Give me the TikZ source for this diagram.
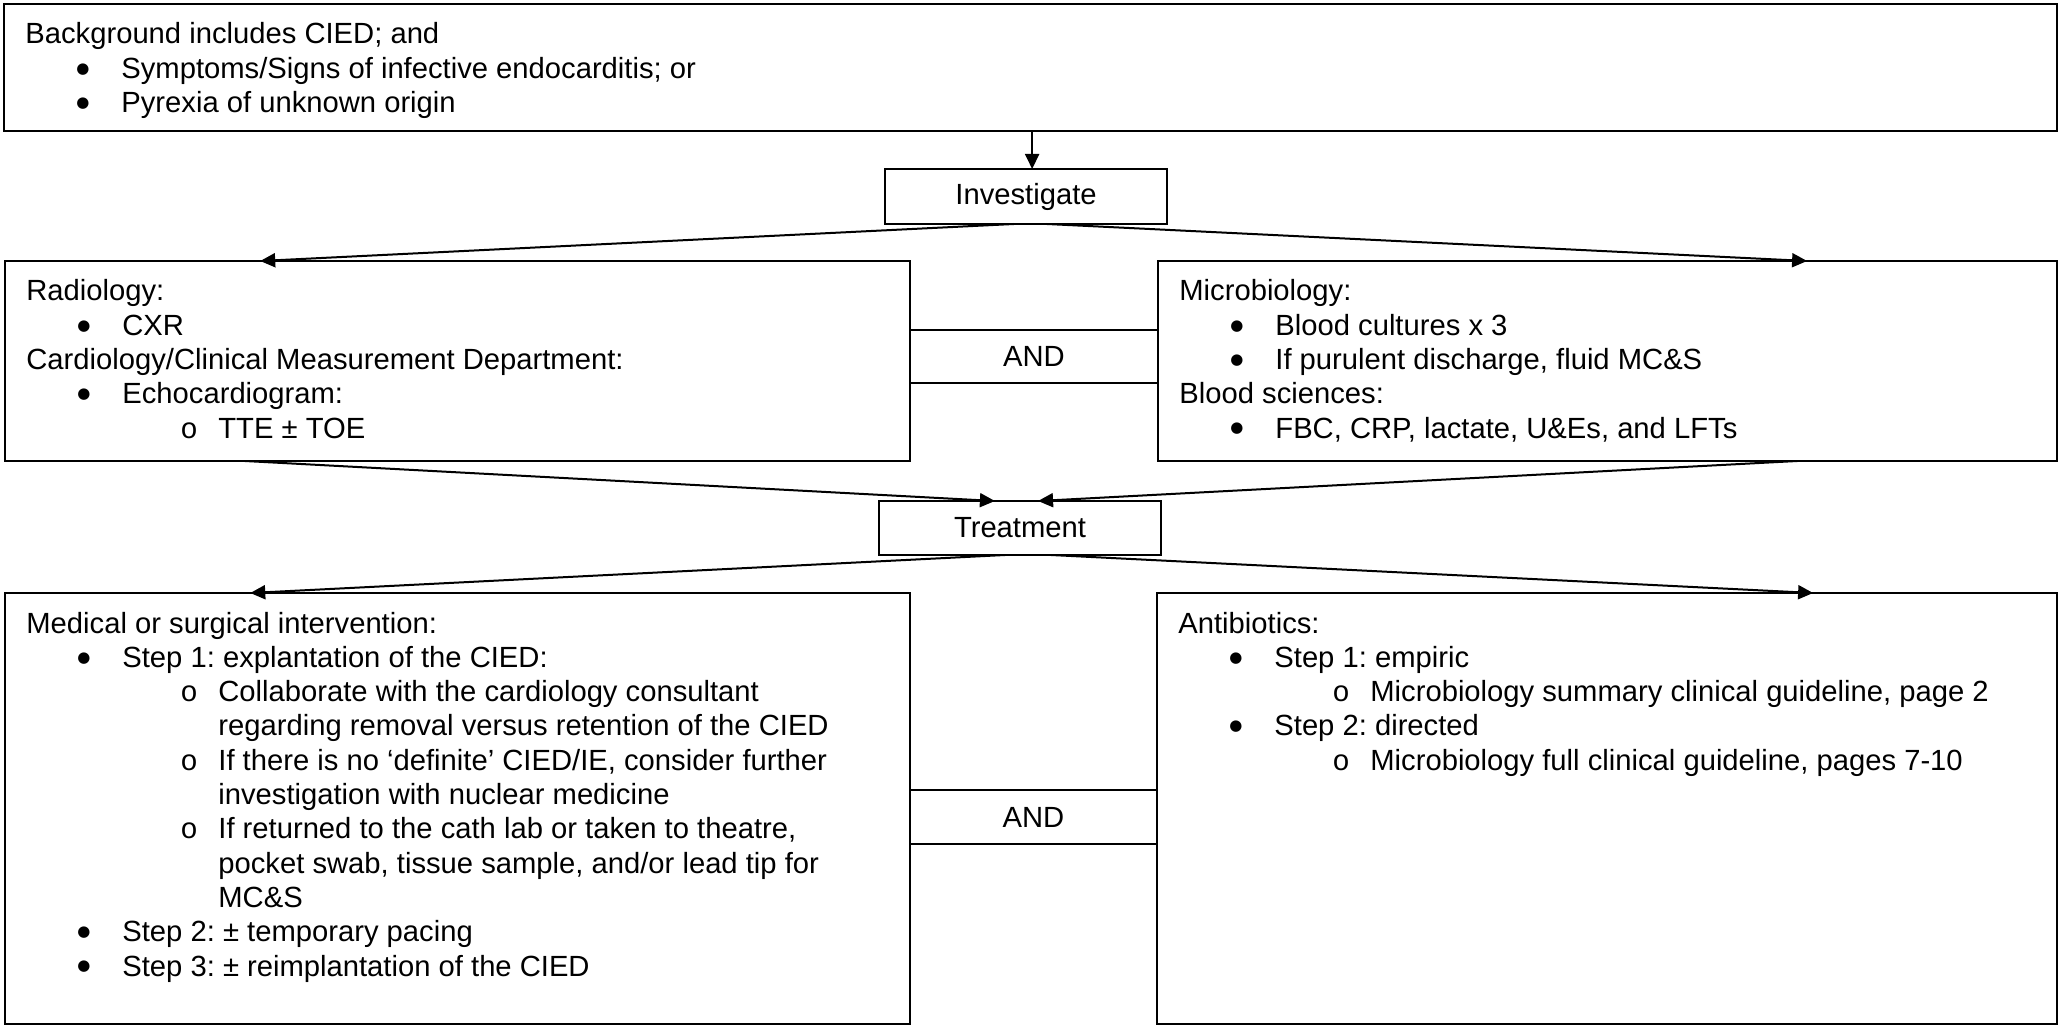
\documentclass[tikz,border=0pt]{standalone}
\usepackage{fontspec}
\setmainfont{Liberation Sans}
\newfontfamily\subbul{Liberation Mono}
\newfontfamily\bulfont{DejaVu Sans}
\usetikzlibrary{arrows.meta,calc}
\frenchspacing
\newcommand\bulletmark{\raisebox{2.6pt}{\bulfont\fontsize{7.5pt}{8pt}\selectfont ●}}
\newcommand\lvA[1]{\hspace*{25.5pt}\makebox[22.5pt][l]{\bulletmark}#1}
\newcommand\lvB[1]{\hspace*{77pt}\makebox[19pt][l]{\subbul o}#1}
\newcommand\lvC[1]{\hspace*{96pt}#1}
\begin{document}
\begin{tikzpicture}[x=0.5pt,y=-0.5pt,
  box/.style={draw, line width=1pt, anchor=north west, inner sep=0pt, outer sep=0pt},
  label/.style={font=\fontsize{14.6pt}{17.15pt}\selectfont, inner sep=0pt},
  txt/.style={anchor=base west, inner sep=0pt, font=\fontsize{14.6pt}{17.15pt}\selectfont\frenchspacing},
  arr/.style={line width=1pt, -{Triangle[length=7.5pt,width=7pt]}}]
\useasboundingbox (0,0) rectangle (2060,1026);
% boxes
\node[box, minimum width=1026.5pt, minimum height=63.5pt] (top) at (4,4) {};
\node[box, minimum width=141pt, minimum height=27.5pt] (inv) at (885,169) {};
\node[box, minimum width=452.5pt, minimum height=100pt] (rad) at (5,261) {};
\node[box, minimum width=449.5pt, minimum height=100pt] (mic) at (1158,261) {};
\node[box, minimum width=124pt, minimum height=26.5pt] (and1) at (910,330) {};
\node[box, minimum width=141pt, minimum height=27pt] (trt) at (879,501) {};
\node[box, minimum width=452.5pt, minimum height=215.5pt] (med) at (5,593) {};
\node[box, minimum width=450pt, minimum height=215.5pt] (ant) at (1157,593) {};
\node[box, minimum width=123.5pt, minimum height=27pt] (and2) at (910,790) {};
% small labels
\node[label] (invt) at (inv.center) {Investigate};
\node[label] (and1t) at (and1.center) {AND};
\node[label] (trtt) at (trt.center) {Treatment};
\node[label] (and2t) at (and2.center) {AND};
% texts
\node[txt] (topt) at ([xshift=10.5pt,yshift=-20pt]top.north west) {\begin{minipage}[t]{900pt}
Background includes CIED; and\\
\lvA{Symptoms/Signs of infective endocarditis; or}\\
\lvA{Pyrexia of unknown origin}
\end{minipage}};
\node[txt] (radt) at ([xshift=10.5pt,yshift=-20pt]rad.north west) {\begin{minipage}[t]{430pt}
Radiology:\\
\lvA{CXR}\\
Cardiology/Clinical Measurement Department:\\
\lvA{Echocardiogram:}\\
\lvB{TTE ± TOE}
\end{minipage}};
\node[txt] (mict) at ([xshift=10.5pt,yshift=-20pt]mic.north west) {\begin{minipage}[t]{430pt}
Microbiology:\\
\lvA{Blood cultures x 3}\\
\lvA{If purulent discharge, fluid MC\&S}\\
Blood sciences:\\
\lvA{FBC, CRP, lactate, U\&Es, and LFTs}
\end{minipage}};
\node[txt] (medt) at ([xshift=10.5pt,yshift=-20pt]med.north west) {\begin{minipage}[t]{430pt}
Medical or surgical intervention:\\
\lvA{Step 1: explantation of the CIED:}\\
\lvB{Collaborate with the cardiology consultant}\\
\lvC{regarding removal versus retention of the CIED}\\
\lvB{If there is no ‘definite’ CIED/IE, consider further}\\
\lvC{investigation with nuclear medicine}\\
\lvB{If returned to the cath lab or taken to theatre,}\\
\lvC{pocket swab, tissue sample, and/or lead tip for}\\
\lvC{MC\&S}\\
\lvA{Step 2: ± temporary pacing}\\
\lvA{Step 3: ± reimplantation of the CIED}
\end{minipage}};
\node[txt] (antt) at ([xshift=10.5pt,yshift=-20pt]ant.north west) {\begin{minipage}[t]{430pt}
Antibiotics:\\
\lvA{Step 1: empiric}\\
\lvB{Microbiology summary clinical guideline, page 2}\\
\lvA{Step 2: directed}\\
\lvB{Microbiology full clinical guideline, pages 7-10}
\end{minipage}};
% arrows
\draw[arr] ($(top.south west)!0.5008!(top.south east)$) -- (inv.north -| {$(top.south west)!0.5008!(top.south east)$});
\draw[arr] ($(inv.south west)!0.457!(inv.south east)$) -- ($(rad.north west)!0.282!(rad.north east)$);
\draw[arr] ($(inv.south west)!0.574!(inv.south east)$) -- ($(mic.north west)!0.722!(mic.north east)$);
\draw[arr] ($(rad.south west)!0.265!(rad.south east)$) -- ($(trt.north west)!0.411!(trt.north east)$);
\draw[arr] ($(mic.south west)!0.711!(mic.south east)$) -- ($(trt.north west)!0.564!(trt.north east)$);
\draw[arr] ($(trt.south west)!0.447!(trt.south east)$) -- ($(med.north west)!0.271!(med.north east)$);
\draw[arr] ($(trt.south west)!0.61!(trt.south east)$) -- ($(ant.north west)!0.729!(ant.north east)$);
\end{tikzpicture}
\end{document}
